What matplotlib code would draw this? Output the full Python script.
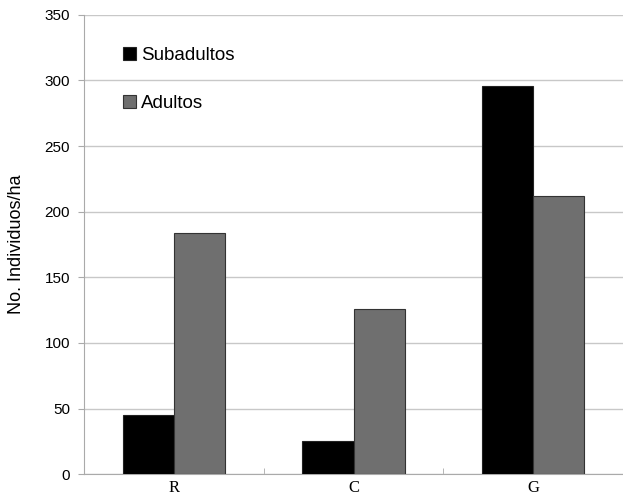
import numpy as np
import matplotlib
matplotlib.use("Agg")
import matplotlib.pyplot as plt

categories = ["R", "C", "G"]
subadultos = [45, 25, 296]
adultos = [184, 126, 212]

fig = plt.figure(figsize=(6.23, 4.95), dpi=100)
ax = fig.add_axes([0.135, 0.042, 0.865, 0.928])

x = np.arange(len(categories))
w = 0.285
ax.bar(x - w / 2, subadultos, w, color="black", edgecolor="#222222", linewidth=0.8,
       label="Subadultos", zorder=3)
ax.bar(x + w / 2, adultos, w, color="#6f6f6f", edgecolor="#333333", linewidth=0.8,
       label="Adultos", zorder=3)

ax.set_xlim(-0.5, len(categories) - 0.5)
ax.set_ylim(0, 350)
ax.set_yticks(np.arange(0, 351, 50))
ax.yaxis.grid(True, color="#c8c8c8", linewidth=1.0, zorder=0)
ax.set_axisbelow(True)

ax.set_xticks(x)
ax.set_xticklabels(categories, family="Liberation Serif", fontsize=12)
ax.set_xticks(np.arange(0.5, len(categories) - 0.5, 1), minor=True)
ax.tick_params(axis="x", which="major", length=0, pad=4)
ax.tick_params(axis="x", which="minor", length=4, color="#aaaaaa", direction="in")
ax.tick_params(axis="y", length=4, color="#aaaaaa", labelsize=11, pad=6)
for lbl in ax.get_yticklabels():
    lbl.set_family("Liberation Sans")

for s in ["top", "right"]:
    ax.spines[s].set_visible(False)
for s in ["left", "bottom"]:
    ax.spines[s].set_color("#aaaaaa")

ax.set_ylabel("No. Individuos/ha", family="Liberation Sans", fontsize=13, labelpad=14)

leg = ax.legend(loc="upper left", bbox_to_anchor=(0.04, 0.967), frameon=False,
                prop={"family": "Liberation Sans", "size": 13.5},
                handlelength=0.7, handleheight=0.7, handletextpad=0.3, labelspacing=1.65)

fig.savefig("out.png", dpi=100)
